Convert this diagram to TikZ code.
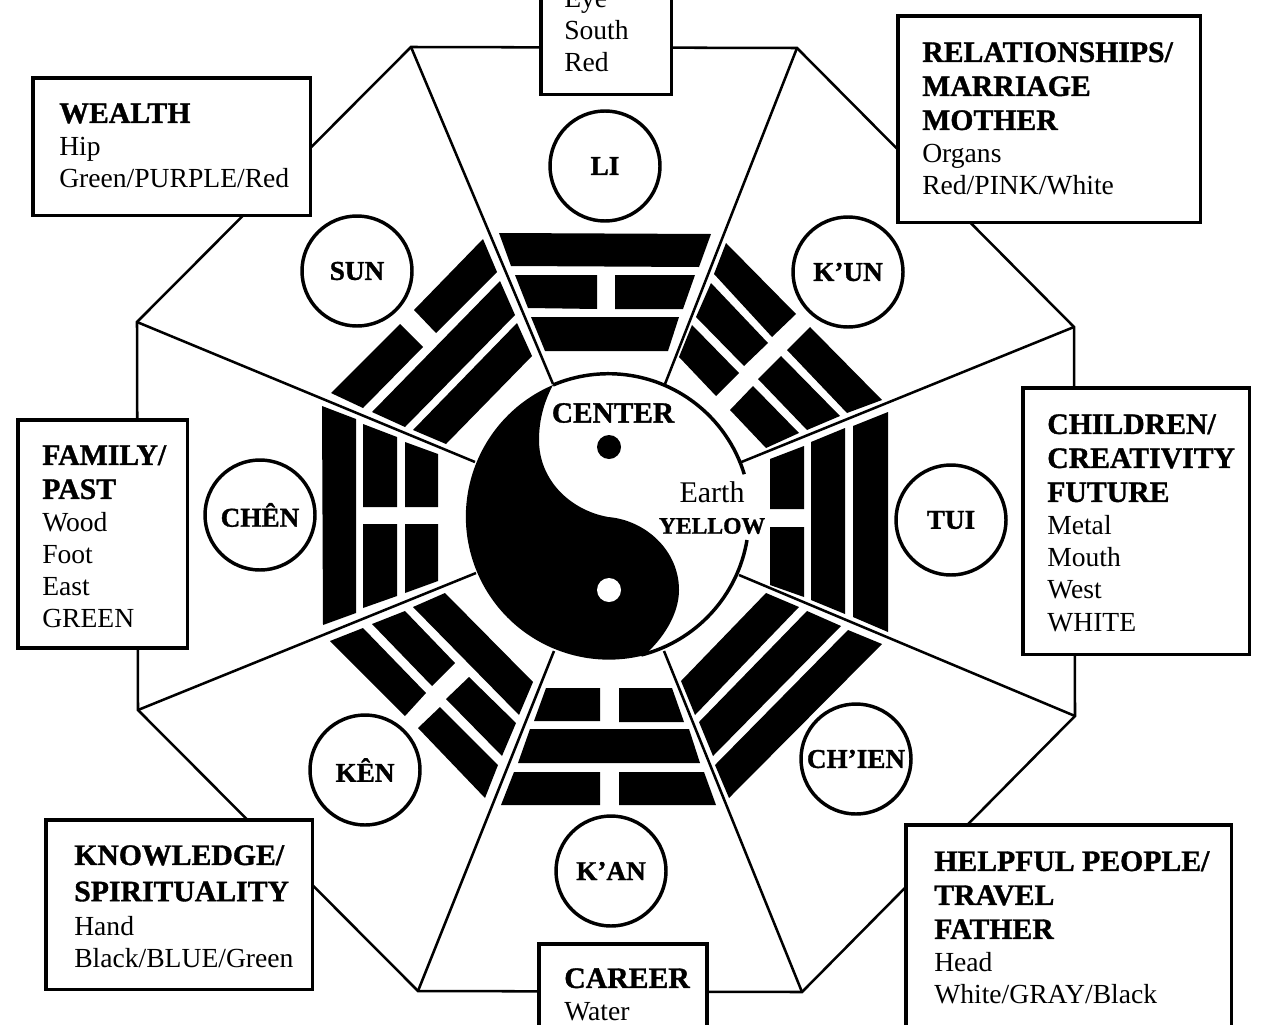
\documentclass[tikz,border=0pt]{standalone}
\usepackage{fontspec}
\setmainfont[BoldFeatures={FakeBold=1.2}]{Liberation Serif}
\newcommand{\headline}[1]{{\bfseries\fontsize{22.3}{26}\selectfont #1}}
\tikzset{
    panel/.style={draw,line width=2.6pt,fill=white,inner sep=0pt,outer sep=0pt,anchor=north west},
    paneltext/.style={inner sep=0pt,anchor=north west,align=left,font=\fontsize{20.7}{24.2}\selectfont},
    gua/.style={draw,circle,line width=2.6pt,fill=white,inner sep=0pt,minimum size=82.5pt,font=\bfseries\fontsize{20.4}{24}\selectfont},
    wall/.style={line width=1.9pt},
    bar/.style={fill=black}
}
\begin{document}
\begin{tikzpicture}[x=0.75pt,y=-0.75pt]
        \useasboundingbox (0,0) rectangle (1280,1024);

        %%%%%%%%%% Vertici %%%%%%%%%%
        \coordinate (nw) at (411,47);
        \coordinate (ne) at (797,48);
        \coordinate (en) at (1074,327);
        \coordinate (es) at (1075,716);
        \coordinate (se) at (802,992);
        \coordinate (sw) at (418,991);
        \coordinate (ws) at (138,710);
        \coordinate (wn) at (137,322);

        \coordinate (hubnw) at (553,384);
        \coordinate (hubne) at (665,384);
        \coordinate (huben) at (739,463);
        \coordinate (hubes) at (739,575);
        \coordinate (hubse) at (664,651);
        \coordinate (hubsw) at (554,651);
        \coordinate (hubws) at (476,573);
        \coordinate (hubwn) at (475,462);

        %%%%%%%%%% Ottagono %%%%%%%%%%
        \draw[wall] (nw) -- (ne) -- (en) -- (es) -- (se) -- (sw) -- (ws) -- (wn) -- cycle;
        \draw[wall] (nw) -- (hubnw);
        \draw[wall] (ne) -- (hubne);
        \draw[wall] (en) -- (huben);
        \draw[wall] (es) -- (hubes);
        \draw[wall] (se) -- (hubse);
        \draw[wall] (sw) -- (hubsw);
        \draw[wall] (ws) -- (hubws);
        \draw[wall] (wn) -- (hubwn);

        %%%%%%%%%% LI %%%%%%%%%%
        \fill[bar] (499,233) -- (711,234) -- (699,267) -- (511,266) -- cycle;
        \fill[bar] (515,275) -- (597,275) -- (597,309) -- (528,308) -- cycle;
        \fill[bar] (615,275) -- (695,275) -- (683,309) -- (615,309) -- cycle;
        \fill[bar] (531,317) -- (679,317) -- (668,351) -- (545,351) -- cycle;

        %%%%%%%%%% K'UN %%%%%%%%%%
        \fill[bar] (726,243) -- (796,314) -- (772,337) -- (714,274) -- cycle;
        \fill[bar] (810,327) -- (882,400) -- (847,413) -- (787,350) -- cycle;
        \fill[bar] (711,283) -- (768,343) -- (744,366) -- (696,317) -- cycle;
        \fill[bar] (781,356) -- (840,416) -- (807,430) -- (758,379) -- cycle;
        \fill[bar] (692,325) -- (739,373) -- (716,396) -- (679,357) -- cycle;
        \fill[bar] (753,386) -- (799,433) -- (766,448) -- (730,410) -- cycle;

        %%%%%%%%%% SUN %%%%%%%%%%
        \fill[bar] (483,239) -- (497,272) -- (436,333) -- (414,310) -- cycle;
        \fill[bar] (400,324) -- (423,347) -- (363,408) -- (331,393) -- cycle;
        \fill[bar] (500,281) -- (515,315) -- (405,427) -- (372,412) -- cycle;
        \fill[bar] (517,323) -- (532,356) -- (446,444) -- (413,430) -- cycle;

        %%%%%%%%%% CHEN %%%%%%%%%%
        \fill[bar] (322,406) -- (356,419) -- (356,613) -- (323,625) -- cycle;
        \fill[bar] (363,424) -- (397,437) -- (397,507) -- (363,507) -- cycle;
        \fill[bar] (363,524) -- (397,524) -- (397,596) -- (363,608) -- cycle;
        \fill[bar] (405,442) -- (438,454) -- (438,507) -- (405,507) -- cycle;
        \fill[bar] (405,524) -- (438,524) -- (438,581) -- (405,593) -- cycle;

        %%%%%%%%%% TUI %%%%%%%%%%
        \fill[bar] (770,459) -- (804,446) -- (804,509) -- (770,509) -- cycle;
        \fill[bar] (770,527) -- (804,527) -- (804,597) -- (770,585) -- cycle;
        \fill[bar] (811,442) -- (845,428) -- (845,614) -- (811,600) -- cycle;
        \fill[bar] (853,426) -- (888,412) -- (888,632) -- (853,617) -- cycle;

        %%%%%%%%%% CH'IEN %%%%%%%%%%
        \fill[bar] (766,593) -- (799,607) -- (695,715) -- (681,681) -- cycle;
        \fill[bar] (807,611) -- (841,626) -- (713,756) -- (699,722) -- cycle;
        \fill[bar] (848,630) -- (882,644) -- (729,798) -- (715,765) -- cycle;

        %%%%%%%%%% KEN %%%%%%%%%%
        \fill[bar] (445,593) -- (533,682) -- (519,715) -- (413,607) -- cycle;
        \fill[bar] (405,611) -- (455,663) -- (432,686) -- (372,624) -- cycle;
        \fill[bar] (469,677) -- (516,723) -- (502,756) -- (446,699) -- cycle;
        \fill[bar] (363,628) -- (426,693) -- (405,716) -- (330,641) -- cycle;
        \fill[bar] (440,707) -- (498,765) -- (485,798) -- (418,728) -- cycle;

        %%%%%%%%%% K'AN %%%%%%%%%%
        \fill[bar] (546,688) -- (600,688) -- (600,721) -- (534,721) -- cycle;
        \fill[bar] (619,688) -- (672,688) -- (684,722) -- (619,722) -- cycle;
        \fill[bar] (530,729) -- (689,729) -- (700,763) -- (518,763) -- cycle;
        \fill[bar] (514,772) -- (600,772) -- (600,805) -- (501,805) -- cycle;
        \fill[bar] (619,772) -- (704,772) -- (716,805) -- (619,805) -- cycle;

        %%%%%%%%%% Yin Yang %%%%%%%%%%
        \fill[bar] (553,385) arc[start angle=247,end angle=75.7,radius=143]
            .. controls (662,640) and (679,615) .. (679,590)
            .. controls (679,550) and (645,520) .. (608,517)
            .. controls (570,510) and (539,480) .. (539,440)
            .. controls (539,418) and (545,400) .. (553,385) -- cycle;
        \draw[line width=2.6pt] (553,385) arc[start angle=247,end angle=343,radius=142];
        \draw[line width=2.6pt] (747,540) arc[start angle=9.5,end angle=75.7,radius=143];
        \fill[bar] (609,447) circle (12);
        \fill[white] (609,590) circle (12);
        \node[font=\bfseries\fontsize{22}{26}\selectfont] (center) at (613,413) {CENTER};
        \node[font=\fontsize{22.5}{26}\selectfont] (earth) at (712,492) {Earth};
        \node[font=\bfseries\fontsize{17.7}{22}\selectfont] (yellow) at (712,526) {YELLOW};

        %%%%%%%%%% Cerchi %%%%%%%%%%
        \node[gua] (li) at (605,166) {LI};
        \node[gua] (sun) at (357,271) {SUN};
        \node[gua] (kun) at (848,272) {K'UN};
        \node[gua] (chen) at (260,515) {CHÊN};
        \node[gua] (tui) at (951,520) {TUI};
        \node[gua] (ken) at (365,770) {KÊN};
        \node[gua] (chien) at (856,759) {CH'IEN};
        \node[gua] (kan) at (611,871) {K'AN};

        %%%%%%%%%% Riquadri %%%%%%%%%%
        \node[panel,minimum width=208pt,minimum height=103pt] (wealth) at (33,78) {};
        \node[paneltext] (wealthtext) at ([shift={(26,25)}]wealth.north west)
            {\headline{WEALTH}\\Hip\\Green/PURPLE/Red};

        \node[panel,minimum width=98pt,minimum height=100pt] (south) at (541,-39) {};
        \node[paneltext] (southtext) at ([shift={(23,28)}]south.north west)
            {Eye\\South\\Red};

        \node[panel,minimum width=227pt,minimum height=155pt] (relation) at (898,16) {};
        \node[paneltext] (relationtext) at ([shift={(24,26)}]relation.north west)
            {\headline{RELATIONSHIPS/}\\[1.3pt]\headline{MARRIAGE}\\[1.3pt]\headline{MOTHER}\\Organs\\Red/PINK/White};

        \node[panel,minimum width=170pt,minimum height=200pt] (children) at (1023,388) {};
        \node[paneltext] (childrentext) at ([shift={(24,26)}]children.north west)
            {\headline{CHILDREN/}\\[1.3pt]\headline{CREATIVITY}\\[1.3pt]\headline{FUTURE}\\Metal\\Mouth\\West\\WHITE};

        \node[panel,minimum width=127pt,minimum height=171pt] (family) at (18,420) {};
        \node[paneltext] (familytext) at ([shift={(24,25)}]family.north west)
            {\headline{FAMILY/}\\[1.3pt]\headline{PAST}\\Wood\\Foot\\East\\GREEN};

        \node[panel,minimum width=200pt,minimum height=127pt] (knowledge) at (46,820) {};
        \node[paneltext] (knowledgetext) at ([shift={(28,25)}]knowledge.north west)
            {\headline{KNOWLEDGE/}\\[3pt]\headline{SPIRITUALITY}\\[1.5pt]Hand\\Black/BLUE/Green};

        \node[panel,minimum width=126pt,minimum height=90pt] (career) at (539,944) {};
        \node[paneltext] (careertext) at ([shift={(25,24)}]career.north west)
            {\headline{CAREER}\\Water};

        \node[panel,minimum width=244pt,minimum height=180pt] (helpful) at (906,825) {};
        \node[paneltext] (helpfultext) at ([shift={(28,26)}]helpful.north west)
            {\headline{HELPFUL PEOPLE/}\\[1.3pt]\headline{TRAVEL}\\[1.3pt]\headline{FATHER}\\Head\\White/GRAY/Black};
    \end{tikzpicture}
\end{document}
